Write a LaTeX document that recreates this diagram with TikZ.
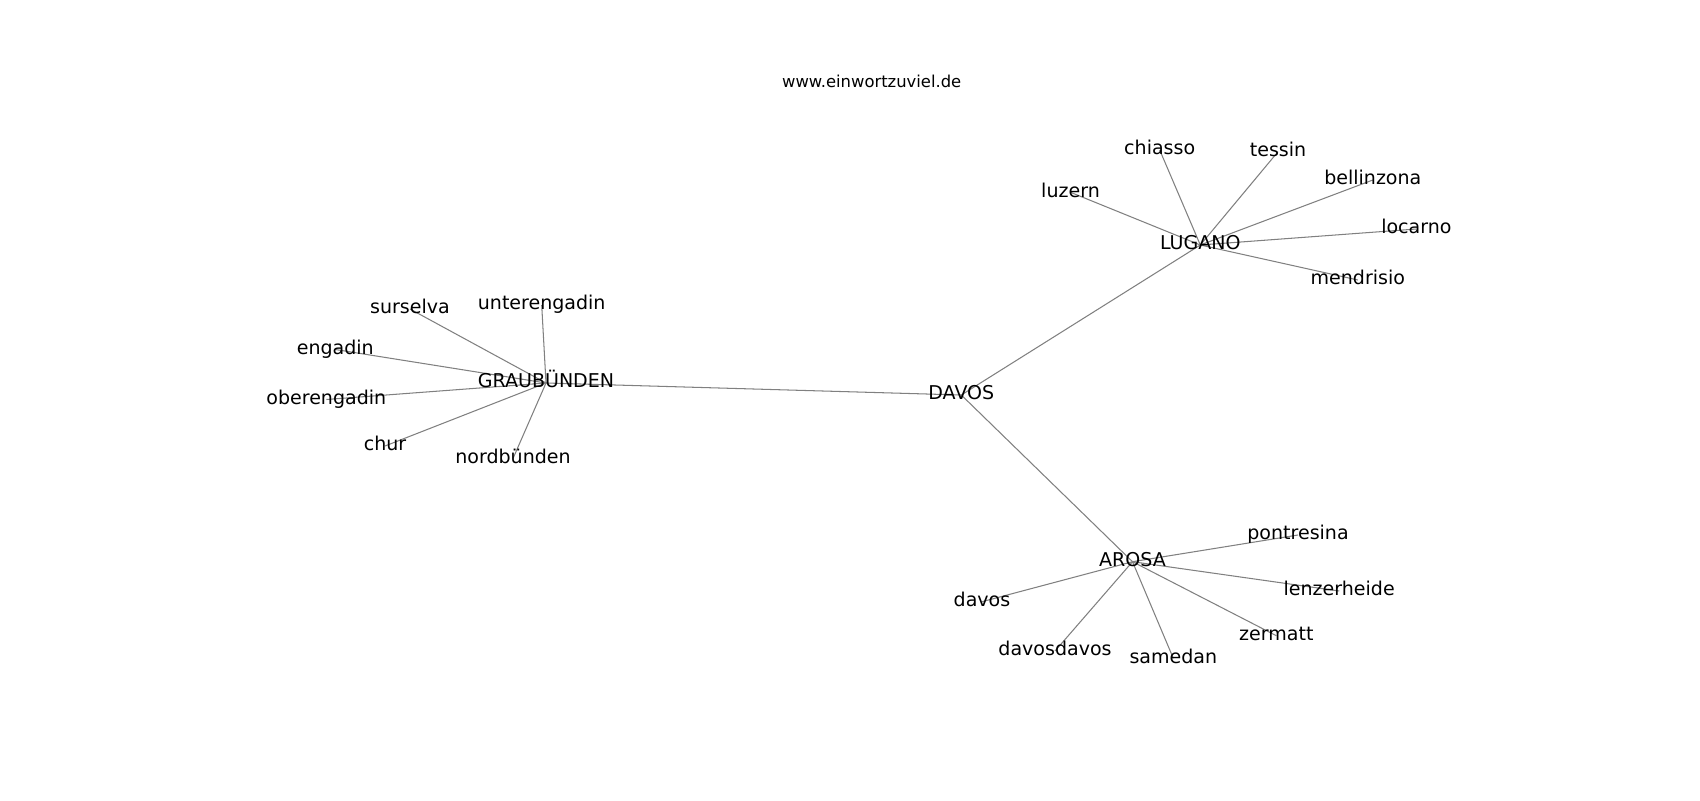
\documentclass[tikz,border=0pt]{standalone}
\usepackage{fontspec}
\setmainfont{DejaVu Sans}
\usetikzlibrary{backgrounds}
\pgfdeclarelayer{bottom}
\pgfsetlayers{bottom,background,main}
\begin{document}
\begin{tikzpicture}[x=0.72pt,y=-0.72pt,
  lbl/.style={inner sep=0pt,outer sep=0pt,anchor=center,font=\fontsize{13.7}{16}\selectfont,text height=10.4pt,text depth=3.3pt},
  edge/.style={draw=black!50,line width=0.75pt}]
\begin{pgfonlayer}{bottom}
\fill[white] (0,0) rectangle (1700,800);
\end{pgfonlayer}
\useasboundingbox (0,0) rectangle (1700,800);
\node[anchor=base,inner sep=0pt,font=\fontsize{11.8}{14}\selectfont] (title) at (871.7,87.3) {www.einwortzuviel.de};
% hubs
\node[lbl] (GR) at (546,383) {GRAUBÜNDEN};
\node[lbl] (DA) at (961.3,395) {DAVOS};
\node[lbl] (LU) at (1200.3,245) {LUGANO};
\node[lbl] (AR) at (1132.5,561.7) {AROSA};
% graubuenden leaves
\node[lbl] (sur) at (410,309) {surselva};
\node[lbl] (unt) at (541.7,305) {unterengadin};
\node[lbl] (eng) at (335.3,349.5) {engadin};
\node[lbl] (obe) at (326.3,399.5) {oberengadin};
\node[lbl] (chu) at (385,446) {chur};
\node[lbl] (nor) at (513,458.5) {nordbünden};
% lugano leaves
\node[lbl] (luz) at (1070.5,192.3) {luzern};
\node[lbl] (chi) at (1159.7,150) {chiasso};
\node[lbl] (tes) at (1278,151.7) {tessin};
\node[lbl] (bel) at (1372.8,180) {bellinzona};
\node[lbl] (loc) at (1416.4,229) {locarno};
\node[lbl] (men) at (1357.8,280) {mendrisio};
% arosa leaves
\node[lbl] (dav) at (982,601.7) {davos};
\node[lbl] (dd) at (1055,651) {davosdavos};
\node[lbl] (sam) at (1173.3,658.3) {samedan};
\node[lbl] (zer) at (1276.3,635.7) {zermatt};
\node[lbl] (len) at (1339.2,591) {lenzerheide};
\node[lbl] (pon) at (1298,535) {pontresina};
\begin{scope}[on background layer]
\foreach \a/\b in {GR/DA,DA/LU,DA/AR,
  GR/sur,GR/unt,GR/eng,GR/obe,GR/chu,GR/nor,
  LU/luz,LU/chi,LU/tes,LU/bel,LU/loc,LU/men,
  AR/dav,AR/dd,AR/sam,AR/zer,AR/len,AR/pon}
  \draw[edge] (\a.center) -- (\b.center);
\end{scope}
\end{tikzpicture}
\end{document}
